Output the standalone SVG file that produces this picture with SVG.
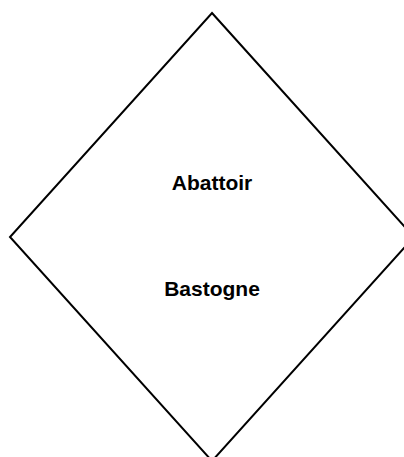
<svg xmlns="http://www.w3.org/2000/svg" width="404" height="457" viewBox="0 0 404 457">
<style>
.shape{fill:#fff;stroke:#000;stroke-width:2}
.lbl{font-family:"Liberation Sans",Arial,sans-serif;font-weight:bold;font-size:21px;fill:#000;text-anchor:middle}
</style>
<rect width="404" height="457" fill="#fff"/>
<g id="node-diamond">
<polygon class="shape" points="212,13 414,237 212,461 10,237"/>
<text class="lbl" x="212" y="190">Abattoir</text>
<text class="lbl" x="212" y="296">Bastogne</text>
</g>
<g id="connectors"></g>
</svg>
